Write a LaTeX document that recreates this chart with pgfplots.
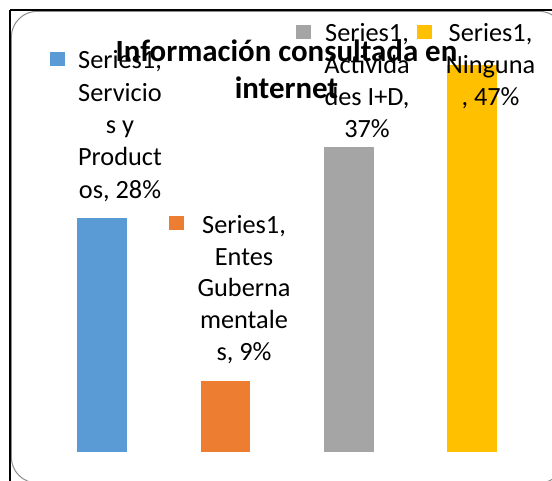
\documentclass[border=0pt]{standalone}
\usepackage{fontspec}
\setmainfont{Carlito}
\usepackage{pgfplots}
\pgfplotsset{compat=1.18}
\definecolor{cblue}{HTML}{5B9BD5}
\definecolor{corange}{HTML}{ED7D31}
\definecolor{cgray}{HTML}{A5A5A5}
\definecolor{cyellow}{HTML}{FFC000}
\definecolor{cframe}{HTML}{8C8C8C}
\newcommand{\lblfont}{\fontsize{26.4}{32}\selectfont}
\newcommand{\ttlfont}{\fontsize{31}{37}\selectfont\bfseries}
\begin{document}
\begin{tikzpicture}[x=1bp,y=1bp]
\useasboundingbox (0,0) rectangle (552,481);
\fill[white] (0,0) rectangle (552,481);
\begin{scope}
\clip (0,0) rectangle (552,481);
\draw[cframe, line width=1bp, rounded corners=26bp] (11.3,-2) rectangle (565,469.7);
\draw[black, line width=1.2bp] (10,471) -- (552,471);
\draw[black, line width=1.2bp] (10,471) -- (10,0);
\end{scope}
\begin{axis}[at={(40.3bp,28.8bp)}, anchor=south west, scale only axis,
  width=493.6bp, height=412.9bp, xmin=-0.5, xmax=3.5, ymin=0, ymax=50,
  axis lines=none, clip=false]
\addplot[ybar, bar width=49.5bp, bar shift=0pt, fill=cblue, draw=none] coordinates {(0,28.3)};
\addplot[ybar, bar width=49.5bp, bar shift=0pt, fill=corange, draw=none] coordinates {(1,8.6)};
\addplot[ybar, bar width=49.5bp, bar shift=0pt, fill=cgray, draw=none] coordinates {(2,37.0)};
\addplot[ybar, bar width=49.5bp, bar shift=0pt, fill=cyellow, draw=none] coordinates {(3,46.9)};
\end{axis}
% data labels with legend keys
\begin{scope}[every node/.style={font=\lblfont, anchor=base, inner sep=0pt}]
% blue
\fill[cblue] (50,414.5) rectangle (65,429.3);
\node at (120,412) {Series1,};
\node at (120,379.7) {Servicio};
\node at (120,347.4) {s y};
\node at (120,315.1) {Product};
\node at (120,282.8) {os, 28\%};
% orange
\fill[corange] (169.3,251) rectangle (184,265);
\node at (244,247.7) {Series1,};
\node at (244,215.9) {Entes};
\node at (244,184.1) {Guberna};
\node at (244,152.2) {mentale};
\node at (244,120.3) {s, 9\%};
% gray
\fill[cgray] (296,441.5) rectangle (310.7,455.5);
\node at (367,439.3) {Series1,};
\node at (367,407.5) {Activida};
\node at (367,375.5) {des I+D,};
\node at (367,343.5) {37\%};
% yellow
\fill[cyellow] (416.7,441.5) rectangle (431.7,455.5);
\node at (490.5,439.3) {Series1,};
\node at (490.5,407.5) {Ninguna};
\node at (490.5,375.5) {, 47\%};
\end{scope}
% title
\node[font=\ttlfont, anchor=base, inner sep=0pt] at (286.5,419) {Información consultada en};
\node[font=\ttlfont, anchor=base, inner sep=0pt] at (286.5,382.5) {internet};
\end{tikzpicture}
\end{document}
